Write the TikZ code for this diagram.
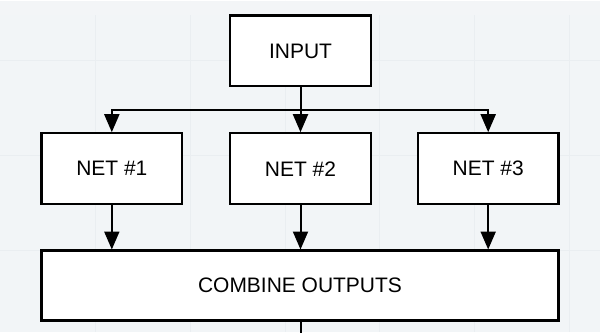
\documentclass[tikz,border=0pt]{standalone}
\usepackage{fontspec}
\setmainfont{Liberation Sans}
\usetikzlibrary{arrows.meta}
\definecolor{bgc}{HTML}{F2F5F7}
\definecolor{gridc}{HTML}{EAEEF1}
\begin{document}
\begin{tikzpicture}[x=1pt,y=-1pt,
  box/.style={draw=black,line width=2.2pt,fill=white,inner sep=0pt,font=\fontsize{21}{25}\selectfont},
  conn/.style={line width=2pt,-{Triangle[length=18pt,width=15pt]}},
  plain/.style={line width=2pt}]
\fill[bgc] (0,0) rectangle (600,332);
\foreach \x in {95,190,285,380,475,570} \draw[gridc,line width=1pt] (\x,0) -- (\x,332);
\foreach \y in {60,155,250} \draw[gridc,line width=1pt] (0,\y) -- (600,\y);
\fill[gridc!60] (0,0) rectangle (600,15);
\useasboundingbox (0,0) rectangle (600,332);
\node[box,minimum width=141pt,minimum height=71pt] (in) at (300.5,50.5) {INPUT};
\node[box,minimum width=141pt,minimum height=71pt] (n1) at (111.5,168.5) {NET \#1};
\node[box,minimum width=141pt,minimum height=71pt] (n2) at (300.5,168.5) {NET \#2};
\node[box,minimum width=141pt,minimum height=71pt] (n3) at (488.5,168.5) {NET \#3};
\node[box,minimum width=518pt,minimum height=70pt] (co) at (300,285.5) {COMBINE OUTPUTS};
\coordinate (bus) at (300.5,110);
\coordinate (out) at (300.5,334);
\draw[plain] (in.south) -- (bus);
\draw[conn] (bus) -| (n1.north);
\draw[conn] (bus) -- (n2.north);
\draw[conn] (bus) -| (n3.north);
\draw[conn] (n1.south) -- (n1.south |- co.north);
\draw[conn] (n2.south) -- (n2.south |- co.north);
\draw[conn] (n3.south) -- (n3.south |- co.north);
\draw[plain] (co.south -| in.south) -- (out);
\end{tikzpicture}
\end{document}
